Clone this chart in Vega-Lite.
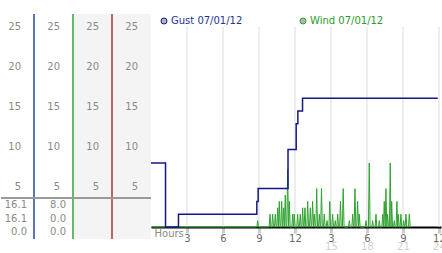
{
  "$schema": "https://vega.github.io/schema/vega-lite/v6.json",
  "padding": {"left": 0, "top": 13, "right": 0, "bottom": 0},
  "background": "white",
  "bounds": "flush",
  "spacing": 0,
  "config": {
    "view": {"stroke": null},
    "axis": {"labelFont": "DejaVu Sans", "titleFont": "DejaVu Sans"},
    "legend": {"labelFont": "DejaVu Sans"},
    "text": {"font": "DejaVu Sans"}
  },
  "resolve": {"scale": {"color": "independent", "stroke": "independent"}, "legend": {"color": "independent", "stroke": "independent"}},
  "datasets": {
    "columns": [{"col": "Gust"}, {"col": "Wind"}, {"col": "S3"}, {"col": "S4"}],
    "scaleLabels": [
      {"col": "Gust", "v": 5}, {"col": "Gust", "v": 10}, {"col": "Gust", "v": 15}, {"col": "Gust", "v": 20}, {"col": "Gust", "v": 25},
      {"col": "Wind", "v": 5}, {"col": "Wind", "v": 10}, {"col": "Wind", "v": 15}, {"col": "Wind", "v": 20}, {"col": "Wind", "v": 25},
      {"col": "S3", "v": 5}, {"col": "S3", "v": 10}, {"col": "S3", "v": 15}, {"col": "S3", "v": 20}, {"col": "S3", "v": 25},
      {"col": "S4", "v": 5}, {"col": "S4", "v": 10}, {"col": "S4", "v": 15}, {"col": "S4", "v": 20}, {"col": "S4", "v": 25}
    ],
    "stats": [
      {"col": "Gust", "stat": "max", "val": 16.1},
      {"col": "Gust", "stat": "last", "val": 16.1},
      {"col": "Gust", "stat": "min", "val": 0.0},
      {"col": "Wind", "stat": "max", "val": 8.0},
      {"col": "Wind", "stat": "last", "val": 0.0},
      {"col": "Wind", "stat": "min", "val": 0.0}
    ],
    "hourTicks": [{"t": 3}, {"t": 6}, {"t": 9}, {"t": 12}, {"t": 15}, {"t": 18}, {"t": 21}, {"t": 24}],
    "gust": [
      {"t": 0, "v": 8.0}, {"t": 1.21, "v": 0}, {"t": 2.29, "v": 1.6}, {"t": 8.82, "v": 3.2}, {"t": 8.93, "v": 4.8},
      {"t": 11.42, "v": 9.7}, {"t": 12.1, "v": 12.9}, {"t": 12.24, "v": 14.5}, {"t": 12.63, "v": 16.1}, {"t": 23.9, "v": 16.1}
    ],
    "wind": [
      {"t":0,"v":0},
      {"t":8.82,"v":0},{"t":8.89,"v":0.8},{"t":8.96,"v":0},
      {"t":9.85,"v":0},{"t":9.92,"v":1.6},{"t":9.99,"v":0},
      {"t":10.07,"v":0},{"t":10.14,"v":1.6},{"t":10.21,"v":0},
      {"t":10.29,"v":0},{"t":10.36,"v":1.6},{"t":10.43,"v":0},
      {"t":10.49,"v":0},{"t":10.56,"v":2.4},{"t":10.62,"v":0},
      {"t":10.63,"v":0},{"t":10.69,"v":3.2},{"t":10.76,"v":0},
      {"t":10.82,"v":0},{"t":10.89,"v":3.2},{"t":10.96,"v":0},
      {"t":10.99,"v":0},{"t":11.06,"v":2.4},{"t":11.12,"v":0},
      {"t":11.13,"v":0},{"t":11.19,"v":4.0},{"t":11.26,"v":0},
      {"t":11.32,"v":0},{"t":11.39,"v":7.2},{"t":11.46,"v":0},
      {"t":11.47,"v":0},{"t":11.53,"v":3.2},{"t":11.6,"v":0},
      {"t":11.74,"v":0},{"t":11.81,"v":1.6},{"t":11.87,"v":0},
      {"t":11.88,"v":0},{"t":11.94,"v":1.6},{"t":12.01,"v":0},
      {"t":12.15,"v":0},{"t":12.22,"v":1.6},{"t":12.29,"v":0},
      {"t":12.37,"v":0},{"t":12.44,"v":1.6},{"t":12.51,"v":0},
      {"t":12.57,"v":0},{"t":12.64,"v":2.4},{"t":12.71,"v":0},
      {"t":12.76,"v":0},{"t":12.83,"v":2.4},{"t":12.9,"v":0},
      {"t":12.99,"v":0},{"t":13.06,"v":3.2},{"t":13.13,"v":0},
      {"t":13.21,"v":0},{"t":13.28,"v":2.4},{"t":13.35,"v":0},
      {"t":13.4,"v":0},{"t":13.47,"v":3.2},{"t":13.54,"v":0},
      {"t":13.55,"v":0},{"t":13.61,"v":1.6},{"t":13.68,"v":0},
      {"t":13.74,"v":0},{"t":13.81,"v":4.8},{"t":13.88,"v":0},
      {"t":13.96,"v":0},{"t":14.03,"v":1.6},{"t":14.1,"v":0},
      {"t":14.14,"v":0},{"t":14.21,"v":4.8},{"t":14.28,"v":0},
      {"t":14.37,"v":0},{"t":14.44,"v":1.6},{"t":14.51,"v":0},
      {"t":14.6,"v":0},{"t":14.67,"v":0.8},{"t":14.74,"v":0},
      {"t":14.83,"v":0},{"t":14.9,"v":3.2},{"t":14.97,"v":0},
      {"t":15.07,"v":0},{"t":15.14,"v":1.6},{"t":15.21,"v":0},
      {"t":15.29,"v":0},{"t":15.36,"v":0.8},{"t":15.43,"v":0},
      {"t":15.49,"v":0},{"t":15.56,"v":1.6},{"t":15.63,"v":0},
      {"t":15.72,"v":0},{"t":15.79,"v":3.2},{"t":15.86,"v":0},
      {"t":15.95,"v":0},{"t":16.02,"v":4.8},{"t":16.09,"v":0},
      {"t":16.46,"v":0},{"t":16.53,"v":0.8},{"t":16.6,"v":0},
      {"t":16.74,"v":0},{"t":16.81,"v":1.6},{"t":16.88,"v":0},
      {"t":16.93,"v":0},{"t":17.0,"v":4.8},{"t":17.07,"v":0},
      {"t":17.15,"v":0},{"t":17.22,"v":3.2},{"t":17.29,"v":0},
      {"t":17.3,"v":0},{"t":17.36,"v":1.6},{"t":17.43,"v":0},
      {"t":17.85,"v":0},{"t":17.92,"v":0.8},{"t":17.99,"v":0},
      {"t":18.12,"v":0},{"t":18.19,"v":8.0},{"t":18.26,"v":0},
      {"t":18.4,"v":0},{"t":18.47,"v":0.8},{"t":18.54,"v":0},
      {"t":18.68,"v":0},{"t":18.75,"v":1.6},{"t":18.82,"v":0},
      {"t":18.96,"v":0},{"t":19.03,"v":0.8},{"t":19.1,"v":0},
      {"t":19.24,"v":0},{"t":19.31,"v":1.6},{"t":19.37,"v":0},
      {"t":19.38,"v":0},{"t":19.44,"v":3.2},{"t":19.51,"v":0},
      {"t":19.52,"v":0},{"t":19.58,"v":4.8},{"t":19.65,"v":0},
      {"t":19.66,"v":0},{"t":19.72,"v":1.6},{"t":19.79,"v":0},
      {"t":19.87,"v":0},{"t":19.94,"v":8.0},{"t":20.0,"v":0},
      {"t":20.01,"v":0},{"t":20.06,"v":3.2},{"t":20.13,"v":0},
      {"t":20.21,"v":0},{"t":20.28,"v":0.8},{"t":20.35,"v":0},
      {"t":20.43,"v":0},{"t":20.5,"v":3.2},{"t":20.55,"v":0},
      {"t":20.56,"v":0},{"t":20.61,"v":1.6},{"t":20.68,"v":0},
      {"t":20.76,"v":0},{"t":20.83,"v":1.6},{"t":20.9,"v":0},
      {"t":20.99,"v":0},{"t":21.06,"v":0.8},{"t":21.13,"v":0},
      {"t":21.18,"v":0},{"t":21.25,"v":1.6},{"t":21.32,"v":0},
      {"t":21.46,"v":0},{"t":21.53,"v":1.6},{"t":21.6,"v":0},
      {"t":21.65,"v":0}
    ]
  },
  "hconcat": [
    {
      "width": 150,
      "height": 225,
      "resolve": {"scale": {"y": "independent"}},
      "layer": [
        {
          "data": {"name": "columns"},
          "transform": [{"filter": "datum.col == 'S3' || datum.col == 'S4'"}],
          "mark": {"type": "rect", "fill": "#f4f4f4"},
          "encoding": {
            "x": {"field": "col", "type": "nominal", "axis": null,
                  "scale": {"type": "band", "domain": ["Gust", "Wind", "S3", "S4"], "range": [-6, 150], "paddingInner": 0, "paddingOuter": 0}}
          }
        },
        {
          "data": {"name": "columns"},
          "transform": [{"filter": "datum.col != 'S4'"}],
          "mark": {"type": "rule", "strokeWidth": 1.5},
          "encoding": {
            "x": {"field": "col", "type": "nominal", "bandPosition": 1, "axis": null},
            "stroke": {"field": "col", "type": "nominal", "legend": null,
                       "scale": {"domain": ["Gust", "Wind", "S3"], "range": ["#2446a6", "#36a03c", "#b03434"]}}
          }
        },
        {
          "layer": [
            {
              "data": {"name": "scaleLabels"},
              "mark": {"type": "text", "align": "right", "baseline": "middle", "dx": -13, "fontSize": 10, "color": "#8a8a8a"},
              "encoding": {
                "x": {"field": "col", "type": "nominal", "bandPosition": 1, "axis": null},
                "y": {"field": "v", "type": "quantitative", "axis": null,
                      "scale": {"domain": [-1.5, 26.625], "nice": false, "zero": false}},
                "text": {"field": "v", "type": "quantitative"}
              }
            },
            {
              "data": {"values": [{}]},
              "mark": {"type": "rule", "color": "#9a9a9a", "strokeWidth": 2},
              "encoding": {"y": {"datum": 3.625, "type": "quantitative"}}
            }
          ]
        },
        {
          "data": {"name": "stats"},
          "mark": {"type": "text", "align": "right", "baseline": "middle", "dx": -7, "fontSize": 10, "color": "#8a8a8a"},
          "encoding": {
            "x": {"field": "col", "type": "nominal", "bandPosition": 1, "axis": null},
            "y": {"field": "stat", "type": "nominal", "axis": null,
                  "scale": {"type": "band", "domain": ["max", "last", "min"], "range": [184, 225], "paddingInner": 0, "paddingOuter": 0}},
            "text": {"field": "val", "type": "quantitative", "format": ".1f"}
          }
        }
      ]
    },
    {
      "width": 290,
      "height": 213,
      "resolve": {"axis": {"x": "independent"}},
      "layer": [
        {
          "data": {"name": "hourTicks"},
          "mark": {"type": "rule", "color": "#dcdcdc", "strokeWidth": 1},
          "encoding": {
            "x": {"field": "t", "type": "quantitative",
                  "scale": {"domain": [0, 24.17], "nice": false, "zero": false},
                  "axis": {"orient": "bottom", "values": [15, 18, 21, 24], "format": "d", "grid": false, "domain": false,
                           "ticks": false, "tickSize": 0, "labelPadding": 14, "labelFontSize": 10,
                           "labelColor": "#d0d0d0", "labelFlush": false, "labelOverlap": false, "title": null}},
            "y": {"datum": 0, "type": "quantitative", "axis": null,
                  "scale": {"domain": [0, 26.625], "nice": false, "zero": false}},
            "y2": {"datum": 25}
          }
        },
        {
          "data": {"name": "wind"},
          "mark": {"type": "line", "strokeWidth": 1, "interpolate": "linear"},
          "encoding": {
            "x": {"field": "t", "type": "quantitative", "axis": null},
            "y": {"field": "v", "type": "quantitative", "axis": null},
            "color": {
              "datum": "Wind 07/01/12", "type": "nominal",
              "scale": {"domain": ["Gust 07/01/12", "Wind 07/01/12"], "range": ["#161688", "#2ea22e"]},
              "legend": {
                "orient": "none", "legendX": 8, "legendY": 2, "direction": "horizontal", "title": null,
                "symbolType": "circle", "symbolSize": 36, "labelFontSize": 10, "labelOffset": 2,
                "columnPadding": 55, "padding": 0,
                "encode": {
                  "symbols": {"update": {"fill": {"value": "#b4b4b4"}, "stroke": {"value": "#8c8c8c"}, "strokeWidth": {"value": 1}, "opacity": {"value": 1}}},
                  "labels": {"update": {"fill": {"signal": "datum.value === 'Gust 07/01/12' ? '#23339b' : '#2b9b2b'"}}}
                }
              }
            }
          }
        },
        {
          "data": {"name": "gust"},
          "mark": {"type": "line", "strokeWidth": 1.5, "interpolate": "step-after"},
          "encoding": {
            "x": {"field": "t", "type": "quantitative",
                  "axis": {"orient": "bottom", "values": [3, 6, 9, 12, 15, 18, 21, 24],
                           "labelExpr": "datum.value % 12 == 0 ? '12' : '' + (datum.value % 12)",
                           "grid": false, "domainColor": "#000000", "domainWidth": 2,
                           "ticks": true, "tickSize": 6, "tickWidth": 3, "tickColor": "#cccccc",
                           "labelFontSize": 10, "labelColor": "#6a6a6a", "labelPadding": 0,
                           "labelFlush": false, "labelOverlap": false,
                           "title": "Hours", "titleFontSize": 10, "titleFontWeight": "normal", "titleColor": "#888888",
                           "titleAnchor": "start", "titleAlign": "left", "titleBaseline": "alphabetic",
                           "titleX": 3, "titleY": 9.5}},
            "y": {"field": "v", "type": "quantitative",
                  "axis": {"values": [5, 10, 15, 20, 25], "labels": false, "grid": true, "gridColor": "#dcdcdc",
                           "domainColor": "#000000", "domainWidth": 2, "ticks": true, "tickSize": 4,
                           "tickWidth": 3, "tickColor": "#c4c4c4", "title": null}},
            "color": {"datum": "Gust 07/01/12", "type": "nominal"}
          }
        }
      ]
    }
  ]
}
